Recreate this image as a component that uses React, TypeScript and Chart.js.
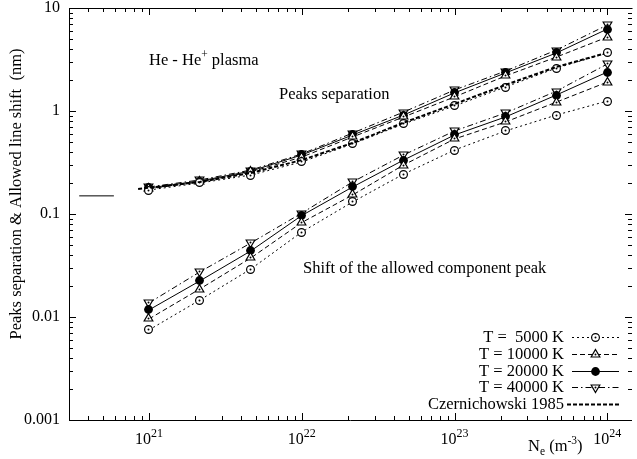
import { useEffect, useRef } from "react";
import { Chart, registerables } from "chart.js";

Chart.register(...registerables);

// ---- data ----
const NE = [1e21, 2.154e21, 4.642e21, 1e22, 2.154e22, 4.642e22, 1e23, 2.154e23, 4.642e23, 1e24];

const SEP_5000 = [0.171, 0.2, 0.239, 0.32, 0.479, 0.748, 1.12, 1.71, 2.61, 3.66];
const SEP_10000 = [0.175, 0.205, 0.256, 0.357, 0.56, 0.875, 1.37, 2.19, 3.34, 5.22];
const SEP_20000 = [0.179, 0.209, 0.261, 0.374, 0.585, 0.914, 1.5, 2.34, 3.66, 6.25];
const SEP_40000 = [0.183, 0.214, 0.267, 0.383, 0.611, 0.977, 1.6, 2.44, 3.91, 6.84];

const SHIFT_5000 = [0.00748, 0.0146, 0.0292, 0.0668, 0.131, 0.244, 0.418, 0.64, 0.914, 1.25];
const SHIFT_10000 = [0.00957, 0.0187, 0.0374, 0.0826, 0.153, 0.299, 0.535, 0.782, 1.22, 1.91];
const SHIFT_20000 = [0.0117, 0.0224, 0.0438, 0.0966, 0.183, 0.334, 0.585, 0.875, 1.43, 2.39];
const SHIFT_40000 = [0.0137, 0.0274, 0.0523, 0.102, 0.205, 0.374, 0.64, 0.957, 1.56, 2.86];

const CZ_NE = [8.5e20, 2.154e21, 4.642e21, 1e22, 2.154e22, 4.642e22, 1e23, 2.154e23, 4.642e23, 9.5e23];
const CZ_SEP = [0.175, 0.205, 0.25, 0.334, 0.49, 0.77, 1.17, 1.79, 2.68, 3.6];

const MARK_NE = [3.5e20, 5.9e20];
const MARK_VAL = [0.15, 0.15];

const X_MIN = 3e20;
const X_MAX = 1.45e24;
const Y_MIN = 0.001;
const Y_MAX = 10;
const Y_TICKS = [0.001, 0.01, 0.1, 1, 10];
const Y_TICK_LABELS = ["0.001", "0.01", "0.1", "1", "10"];
const X_DECADES = [21, 22, 23, 24];

const LEGEND = [
  { label: "T =  5000 K", dash: [2, 3], marker: "circle", width: 1 },
  { label: "T = 10000 K", dash: [5, 3], marker: "up", width: 1 },
  { label: "T = 20000 K", dash: [], marker: "filled", width: 1 },
  { label: "T = 40000 K", dash: [6, 3, 1.5, 3], marker: "down", width: 1 },
  { label: "Czernichowski 1985", dash: [4, 2], marker: null, width: 2 },
];

const SERIF = '"Liberation Serif", "Times New Roman", Times, serif';

function makeMarker(kind: string): HTMLCanvasElement {
  const s = 13;
  const c = document.createElement("canvas");
  c.width = s;
  c.height = s;
  const g = c.getContext("2d")!;
  const cx = 6.5,
    cy = 6.5;
  g.lineWidth = 1.2;
  g.strokeStyle = "#000";
  g.fillStyle = "#fff";
  if (kind === "filled") {
    g.beginPath();
    g.arc(cx, cy, 4.4, 0, Math.PI * 2);
    g.fillStyle = "#000";
    g.fill();
    return c;
  }
  g.beginPath();
  if (kind === "circle") {
    g.arc(cx, cy, 3.9, 0, Math.PI * 2);
  } else {
    const r = 5;
    const sg = kind === "up" ? 1 : -1;
    g.moveTo(cx, cy - sg * r);
    g.lineTo(cx + r * 0.866, cy + sg * r * 0.5);
    g.lineTo(cx - r * 0.866, cy + sg * r * 0.5);
    g.closePath();
  }
  g.fill();
  g.stroke();
  g.beginPath();
  g.arc(cx, cy, 1, 0, Math.PI * 2);
  g.fillStyle = "#000";
  g.fill();
  return c;
}

type Part = [string, number, number];
function richWidth(ctx: CanvasRenderingContext2D, parts: Part[]) {
  let w = 0;
  for (const [t, size] of parts) {
    ctx.font = `${size}px ${SERIF}`;
    w += ctx.measureText(t).width;
  }
  return w;
}
function drawRich(ctx: CanvasRenderingContext2D, x: number, y: number, parts: Part[]) {
  let cx = x;
  ctx.textAlign = "left";
  ctx.textBaseline = "alphabetic";
  for (const [t, size, dy] of parts) {
    ctx.font = `${size}px ${SERIF}`;
    ctx.fillText(t, cx, y + dy);
    cx += ctx.measureText(t).width;
  }
  return cx;
}

export default function App() {
  const ref = useRef<HTMLCanvasElement | null>(null);

  useEffect(() => {
    if (!ref.current) return;
    const markers: Record<string, HTMLCanvasElement> = {
      circle: makeMarker("circle"),
      up: makeMarker("up"),
      filled: makeMarker("filled"),
      down: makeMarker("down"),
    };

    const series = (
      xs: number[],
      ys: number[],
      dash: number[],
      marker: string | null,
      width = 1
    ) => ({
      data: xs.map((x, i) => ({ x, y: ys[i] })),
      borderColor: "#000",
      backgroundColor: "#000",
      borderWidth: width,
      borderDash: dash,
      pointStyle: marker ? markers[marker] : false,
      pointRadius: marker ? 4 : 0,
      pointHoverRadius: marker ? 4 : 0,
      fill: false,
      tension: 0,
    });

    const plugin = {
      id: "gnuplotStyle",
      beforeDraw(chart: any) {
        const ctx = chart.ctx;
        ctx.save();
        ctx.fillStyle = "#fff";
        ctx.fillRect(0, 0, chart.width, chart.height);
        ctx.restore();
      },
      beforeDatasetsDraw(chart: any) {
        chart.ctx.imageSmoothingEnabled = false;
      },
      afterDatasetsDraw(chart: any) {
        chart.ctx.imageSmoothingEnabled = true;
      },
      afterDraw(chart: any) {
        const ctx: CanvasRenderingContext2D = chart.ctx;
        const xs = chart.scales.x;
        const ys = chart.scales.y;
        const { left, right, top, bottom } = chart.chartArea;
        ctx.save();
        ctx.strokeStyle = "#000";
        ctx.fillStyle = "#000";
        ctx.lineWidth = 1;
        ctx.setLineDash([]);
        // frame
        ctx.beginPath();
        ctx.moveTo(left + 0.5, top + 0.5);
        ctx.lineTo(right + 0.5, top + 0.5);
        ctx.moveTo(left + 0.5, top);
        ctx.lineTo(left + 0.5, bottom + 1);
        ctx.moveTo(left, bottom + 0.5);
        ctx.lineTo(right, bottom + 0.5);
        ctx.stroke();
        // ticks
        ctx.beginPath();
        for (let e = 20; e <= 24; e++) {
          for (let m = 1; m <= 9; m++) {
            const v = m * Math.pow(10, e);
            if (v < X_MIN || v > X_MAX) continue;
            const px = Math.round(xs.getPixelForValue(v)) + 0.5;
            const L = m === 1 ? 7 : 4;
            ctx.moveTo(px, bottom);
            ctx.lineTo(px, bottom - L);
            ctx.moveTo(px, top);
            ctx.lineTo(px, top + L);
          }
        }
        for (let e = -3; e <= 1; e++) {
          for (let m = 1; m <= 9; m++) {
            const v = m * Math.pow(10, e);
            if (v < Y_MIN * 0.999 || v > Y_MAX * 1.001) continue;
            const py = Math.round(ys.getPixelForValue(v)) + 0.5;
            const L = m === 1 ? 7 : 4;
            ctx.moveTo(left, py);
            ctx.lineTo(left + L, py);
            ctx.moveTo(right, py);
            ctx.lineTo(right - L, py);
          }
        }
        ctx.stroke();

        // x tick labels with superscripts
        for (const e of X_DECADES) {
          const px = xs.getPixelForValue(Math.pow(10, e));
          const parts: Part[] = [
            ["10", 16, 0],
            [String(e), 12, -7],
          ];
          const w = richWidth(ctx, parts);
          drawRich(ctx, px - w / 2, 444, parts);
        }

        // axis titles
        drawRich(ctx, 528, 451, [
          ["N", 16.5, 0],
          ["e", 11.5, 4],
          [" (m", 16.5, 0],
          ["-3", 11.5, -7],
          [")", 16.5, 0],
        ]);
        ctx.save();
        ctx.translate(21, 194);
        ctx.rotate(-Math.PI / 2);
        ctx.font = `16.5px ${SERIF}`;
        ctx.textAlign = "center";
        ctx.textBaseline = "alphabetic";
        ctx.fillText("Peaks separation & Allowed line shift  (nm)", 0, 0);
        ctx.restore();

        // annotations
        drawRich(ctx, 149, 65, [
          ["He - He", 16.5, 0],
          ["+", 11.5, -7],
          [" plasma", 16.5, 0],
        ]);
        drawRich(ctx, 279, 99, [["Peaks separation", 16.5, 0]]);
        drawRich(ctx, 303, 273, [["Shift of the allowed component peak", 16.5, 0]]);

        // legend
        LEGEND.forEach((it, i) => {
          const base = 342 + i * 16.75;
          const ly = Math.round(base - 5) + 0.5;
          ctx.font = `16.5px ${SERIF}`;
          ctx.textAlign = "right";
          ctx.textBaseline = "alphabetic";
          ctx.fillText(it.label, 564, base);
          ctx.beginPath();
          ctx.lineWidth = it.width;
          ctx.setLineDash(it.dash);
          ctx.moveTo(it.marker ? 572 : 567, ly);
          ctx.lineTo(619, ly);
          ctx.stroke();
          ctx.setLineDash([]);
          ctx.lineWidth = 1;
          if (it.marker) {
            const m = markers[it.marker];
            ctx.drawImage(m, Math.round(595.5 - m.width / 2), Math.round(ly - m.height / 2));
          }
        });
        ctx.restore();
      },
    };

    const chart = new Chart(ref.current, {
      type: "line",
      data: {
        datasets: [
          series(MARK_NE, MARK_VAL, [], null),
          series(CZ_NE, CZ_SEP, [4, 2], null, 2),
          series(NE, SEP_5000, [2, 3], "circle"),
          series(NE, SEP_10000, [5, 3], "up"),
          series(NE, SEP_20000, [], "filled"),
          series(NE, SEP_40000, [6, 3, 1.5, 3], "down"),
          series(NE, SHIFT_5000, [2, 3], "circle"),
          series(NE, SHIFT_10000, [5, 3], "up"),
          series(NE, SHIFT_20000, [], "filled"),
          series(NE, SHIFT_40000, [6, 3, 1.5, 3], "down"),
        ] as any,
      },
      options: {
        responsive: false,
        animation: false,
        devicePixelRatio: 1,
        layout: { padding: { top: 8, left: 0, right: 0, bottom: 0 } },
        plugins: {
          legend: { display: false },
          tooltip: { enabled: false },
        },
        events: [],
        scales: {
          x: {
            type: "logarithmic",
            position: "bottom",
            min: X_MIN,
            max: X_MAX,
            grid: { display: false, drawTicks: false },
            border: { display: false },
            ticks: { display: false },
            afterFit: (s: any) => {
              s.height = 39;
              s.paddingLeft = 0;
              s.paddingRight = 0;
            },
          },
          y: {
            type: "logarithmic",
            position: "left",
            min: Y_MIN,
            max: Y_MAX,
            grid: { display: false, drawTicks: false },
            border: { display: false },
            afterBuildTicks: (s: any) => {
              s.ticks = Y_TICKS.map((value) => ({ value }));
            },
            ticks: {
              autoSkip: false,
              padding: 9,
              color: "#000",
              font: { family: SERIF, size: 16 },
              callback: (v: any) => {
                const i = Y_TICKS.findIndex((t) => Math.abs(t - Number(v)) / t < 1e-6);
                return i >= 0 ? Y_TICK_LABELS[i] : "";
              },
            },
            afterFit: (s: any) => {
              s.width = 69;
              s.paddingTop = 0;
              s.paddingBottom = 0;
            },
          },
        },
      } as any,
      plugins: [plugin],
    });

    return () => chart.destroy();
  }, []);

  return (
    <div style={{ position: "fixed", left: 0, top: 0, width: 637, height: 459, background: "#fff" }}>
      <canvas ref={ref} width={637} height={459} style={{ display: "block" }} />
    </div>
  );
}
